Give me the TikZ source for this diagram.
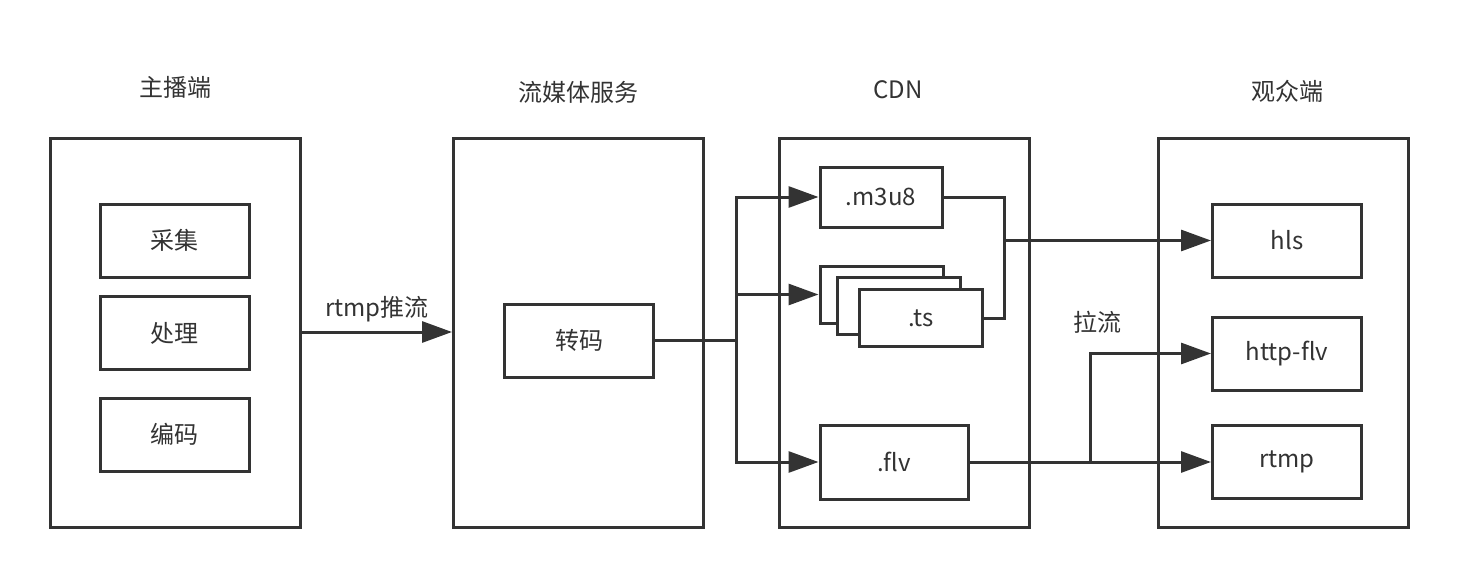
\documentclass[tikz,border=0pt]{standalone}
\usepackage{fontspec}
\setmainfont{Noto Sans CJK SC}
\usetikzlibrary{arrows.meta}
\definecolor{ink}{HTML}{333333}

\begin{document}
\begin{tikzpicture}[x=0.5pt,y=-0.5pt,
		every node/.style={font=\fontsize{12pt}{14pt}\selectfont,text=ink},
		line/.style={draw=ink,line width=1.5pt},
		group/.style={line,minimum width=125pt,minimum height=194.5pt,inner sep=0pt},
		box/.style={line,fill=white,minimum width=74.5pt,minimum height=36.5pt,inner sep=0pt},
		arr/.style={line,-{Triangle[length=15pt,width=10.5pt]}}]
		\useasboundingbox (0,0) rectangle (1458,578);
		% columns
		\node[group](anchor) at (175,332.5){};
		\node[group](media) at (578.5,332.5){};
		\node[group](cdn) at (904.5,332.5){};
		\node[group](viewer) at (1283,332.5){};
		\node(t1) at (175,87){主播端};
		\node(t2) at (578,92){流媒体服务};
		\node(t3) at (898,90){CDN};
		\node(t4) at (1287,91){观众端};
		% boxes
		\node[box](cap) at (174.5,240.5){采集};
		\node[box](proc) at (174.5,333){处理};
		\node[box](enc) at (174.5,434.5){编码};
		\node[box](tc) at (579,340.5){转码};
		\node[box,minimum width=61pt,minimum height=30pt](m3u8) at (881,197){.m3u8};
		\node[box,minimum width=61.5pt,minimum height=28.5pt](ts1) at (881.5,294.5){};
		\node[box,minimum width=61.5pt,minimum height=28.5pt](ts2) at (899,306){};
		\node[box,minimum width=61.5pt,minimum height=28.5pt](ts3) at (921,318){.ts};
		\node[box,minimum width=74pt,minimum height=37pt](flv) at (894,462){.flv};
		\node[box](hls) at (1287,240.5){hls};
		\node[box](http) at (1287,353.5){http-flv};
		\node[box](rtmp) at (1287,462){rtmp};
		% connectors
		\draw[arr](anchor.east|-0,332) -- node[above=1pt]{rtmp推流} (media.west|-0,332);
		\coordinate(sp) at (736,340.5);
		\draw[line](tc.east) -- (sp);
		\draw[arr](sp) |- (m3u8.west);
		\draw[arr](sp) |- (ts1.west);
		\draw[arr](sp) |- (flv.west);
		\coordinate(mg) at (1004,240.5);
		\draw[line](m3u8.east) -| (mg) |- (ts3.east);
		\draw[arr](mg) -- (hls.west);
		\draw[arr](flv.east) -- (rtmp.west);
		\coordinate(fj) at (1090,462);
		\draw[arr](fj) |- (http.west);
		\node(pull) at (1097,322){拉流};
	\end{tikzpicture}
\end{document}
